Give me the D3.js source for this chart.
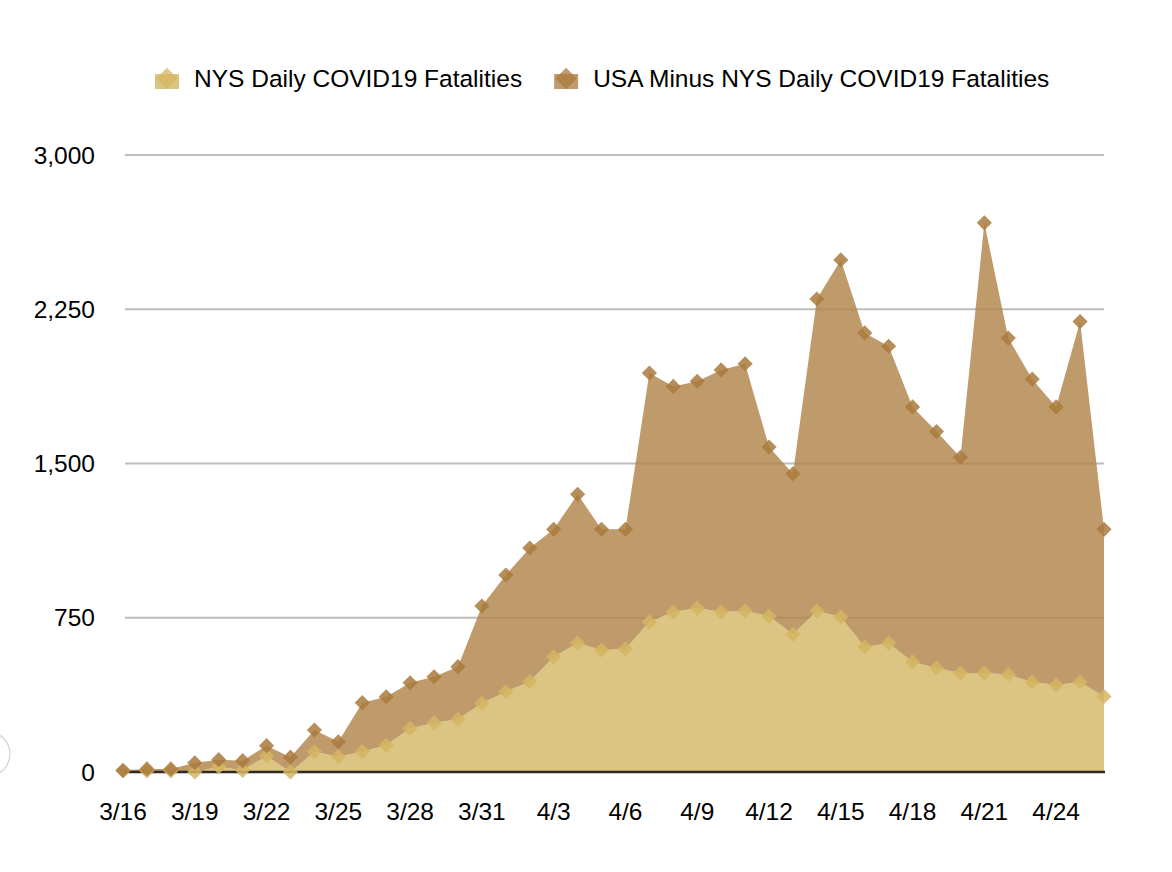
<!DOCTYPE html>
<html>
<head>
<meta charset="utf-8">
<script src="https://cdn.jsdelivr.net/npm/d3@7"></script>
<style>
	body { margin: 0; background: #fff; }
	svg { display: block; font-family: "Liberation Sans", Arial, sans-serif; }
</style>
</head>
<body>
<svg id="chart" width="1172" height="872"></svg>
<script>
// days 3/16 .. 4/26
let dates = ["3/16","3/17","3/18","3/19","3/20","3/21","3/22","3/23","3/24","3/25","3/26","3/27","3/28","3/29","3/30","3/31",
	"4/1","4/2","4/3","4/4","4/5","4/6","4/7","4/8","4/9","4/10","4/11","4/12","4/13","4/14","4/15","4/16","4/17","4/18",
	"4/19","4/20","4/21","4/22","4/23","4/24","4/25","4/26"];

let nysDaily = [5, 5, 5, 0, 26, 8, 78, 0, 99, 75, 99, 131, 212, 240, 256, 334,
	390, 440, 560, 627, 593, 598, 730, 778, 797, 778, 783, 758, 670, 783, 754, 608, 627, 535,
	506, 481, 481, 474, 438, 423, 438, 367];

let usaMinusNys = [3, 10, 10, 45, 34, 47, 50, 72, 105, 72, 238, 235, 222, 223, 256, 473,
	568, 649, 620, 723, 587, 582, 1210, 1097, 1103, 1177, 1202, 822, 780, 1517, 1736, 1527, 1443, 1240,
	1149, 1049, 2189, 1636, 1472, 1352, 1752, 813];

let xTicks = ["3/16","3/19","3/22","3/25","3/28","3/31","4/3","4/6","4/9","4/12","4/15","4/18","4/21","4/24"];
let yTicks = [0, 750, 1500, 2250, 3000];

let seriesNames = ["NYS Daily COVID19 Fatalities", "USA Minus NYS Daily COVID19 Fatalities"];
let areaColors = ["#dcc582", "#b1844a"];
let markerColors = ["#d4b561", "#a97a3c"];

let fontSize = 24.5;
let svg = d3.select("#chart");

let x = d3.scalePoint()
	.domain(dates)
	.range([123, 1104]);

let y = d3.scaleLinear()
	.domain([0, 3000])
	.range([772, 155]);

// odd little circle on the left edge of the screenshot
svg.append("circle")
	.attr("cx", -12).attr("cy", 754).attr("r", 22)
	.attr("fill", "#fff").attr("stroke", "#cfcfcf").attr("stroke-width", 1.2);

// gridlines
svg.append("g")
	.selectAll("line")
	.data(yTicks.filter(d => d > 0))
	.join("line")
		.attr("x1", 125).attr("x2", 1104)
		.attr("y1", d => y(d)).attr("y2", d => y(d))
		.attr("stroke", "#bdbdbd")
		.attr("stroke-width", 2);

let rows = dates.map((d, i) => ({date: d, nys: nysDaily[i], rest: usaMinusNys[i]}));
let stacked = d3.stack().keys(["nys", "rest"])(rows);

let area = d3.area()
	.x(d => x(d.data.date))
	.y0(d => y(d[0]))
	.y1(d => y(d[1]));

svg.append("g")
	.selectAll("path")
	.data(stacked)
	.join("path")
		.attr("d", area)
		.attr("fill", (d, i) => areaColors[i])
		.attr("fill-opacity", (d, i) => i == 0 ? 1 : 0.82);

// baseline
svg.append("line")
	.attr("x1", 120).attr("x2", 1105)
	.attr("y1", y(0)).attr("y2", y(0))
	.attr("stroke", "#2e2a22")
	.attr("stroke-width", 2.5);

let diamond = d3.symbol().type(d3.symbolSquare).size(115);

stacked.forEach((s, i) => {
	svg.append("g")
		.selectAll("path")
		.data(s)
		.join("path")
			.attr("d", diamond)
			.attr("transform", d => `translate(${x(d.data.date)},${y(d[1])}) rotate(45)`)
			.attr("fill", markerColors[i])
			.attr("opacity", 0.85);
});

// y axis labels
svg.append("g")
	.selectAll("text")
	.data(yTicks)
	.join("text")
		.attr("x", 95)
		.attr("y", d => y(d) + 8.5)
		.attr("text-anchor", "end")
		.attr("font-size", fontSize)
		.attr("fill", "#000")
		.text(d => d3.format(",")(d));

// x axis labels
svg.append("g")
	.selectAll("text")
	.data(xTicks)
	.join("text")
		.attr("x", d => x(d))
		.attr("y", 820)
		.attr("text-anchor", "middle")
		.attr("font-size", fontSize)
		.attr("fill", "#000")
		.text(d => d);

// legend
let lx = 155;
let legendDiamond = d3.symbol().type(d3.symbolSquare).size(230);
seriesNames.forEach((name, i) => {
	let g = svg.append("g").attr("transform", `translate(${lx},0)`);
	g.append("rect")
		.attr("x", 0).attr("y", 74)
		.attr("width", 24).attr("height", 15)
		.attr("fill", areaColors[i])
		.attr("fill-opacity", i == 0 ? 1 : 0.82);
	g.append("path")
		.attr("d", legendDiamond)
		.attr("transform", "translate(12,78.5) rotate(45)")
		.attr("fill", markerColors[i])
		.attr("opacity", 0.75)
		.attr("clip-path", null);
	let t = g.append("text")
		.attr("x", 39)
		.attr("y", 87)
		.attr("font-size", fontSize)
		.attr("fill", "#000")
		.text(name);
	lx += 39 + t.node().getComputedTextLength() + 32;
});
</script>
</body>
</html>
